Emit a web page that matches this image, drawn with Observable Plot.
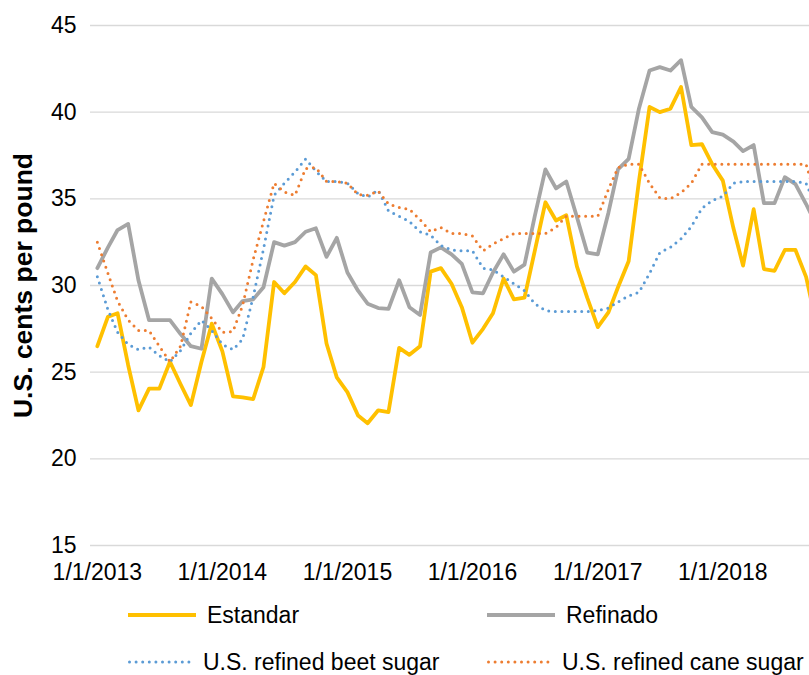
<!DOCTYPE html>
<html>
<head>
<meta charset="utf-8">
<script src="https://cdn.jsdelivr.net/npm/d3@7"></script>
<script src="https://cdn.jsdelivr.net/npm/@observablehq/plot@0.6"></script>
<style>
  html, body { margin: 0; padding: 0; background: #fff; overflow: hidden; }
  #wrap { position: relative; width: 809px; height: 675px; font-family: "Liberation Sans", Arial, sans-serif; }
  #legend { position: relative; width: 809px; height: 85px; font-size: 23px; color: #000; }
  .item { position: absolute; display: flex; align-items: center; height: 30px; }
  .item svg { display: block; margin-right: 9px; }
</style>
</head>
<body>
<div id="wrap">
  <div id="chart"></div>
  <div id="legend"></div>
</div>
<script>
// ---- data (monthly, starting January 2013) ----
const startMonth = "2013-01-01";
const estandar = [26.5, 28.2, 28.4, 25.4, 22.8, 24.05, 24.05, 25.6, 24.3, 23.1, 25.6, 27.8,
  26.2, 23.6, 23.55, 23.45, 25.3, 30.2, 29.55, 30.2, 31.1, 30.6, 26.65, 24.7,
  23.85, 22.5, 22.05, 22.8, 22.7, 26.4, 26.0, 26.5, 30.8, 31.0, 30.1, 28.75,
  26.7, 27.5, 28.4, 30.4, 29.2, 29.3, 32.0, 34.8, 33.75, 34.05, 31.1, 29.3,
  27.6, 28.45, 29.9, 31.4, 36.0, 40.3, 40.0, 40.2, 41.45, 38.1, 38.15, 37.0,
  36.05, 33.3, 31.15, 34.4, 30.95, 30.85, 32.05, 32.05, 30.5, 27.8];
const refinado = [31.0, 32.2, 33.2, 33.55, 30.3, 28.0, 28.0, 28.0, 27.2, 26.5, 26.35, 30.4,
  29.5, 28.45, 29.1, 29.2, 29.9, 32.5, 32.3, 32.5, 33.1, 33.3, 31.65, 32.75,
  30.75, 29.7, 28.95, 28.7, 28.65, 30.3, 28.75, 28.3, 31.9, 32.2, 31.8, 31.25,
  29.6, 29.55, 30.75, 31.8, 30.8, 31.2, 34.0, 36.7, 35.6, 36.0, 33.95, 31.9,
  31.8, 34.2, 36.7, 37.3, 40.2, 42.4, 42.6, 42.4, 43.0, 40.3, 39.7, 38.85,
  38.7, 38.3, 37.75, 38.1, 34.75, 34.75, 36.25, 35.85, 34.7, 33.5];
const beetSugar = [30.5, 28.6, 27.3, 26.6, 26.3, 26.45, 25.95, 25.6, 26.25, 27.25, 28.0, 27.4,
  26.6, 26.3, 26.9, 29.35, 32.1, 35.2, 35.9, 36.55, 37.3, 36.6, 36.0, 36.0,
  35.9, 35.3, 35.1, 35.5, 34.3, 34.0, 33.7, 33.1, 32.9, 32.3, 32.05, 32.0,
  32.0, 31.0, 30.9, 30.5, 30.1, 29.7, 28.95, 28.55, 28.5, 28.5, 28.5, 28.5,
  28.55, 28.7, 29.05, 29.4, 29.6, 30.7, 31.9, 32.2, 32.7, 33.4, 34.45, 34.9,
  35.15, 35.9, 36.0, 36.0, 36.0, 36.0, 36.0, 36.0, 35.9, 34.5];
const caneSugar = [32.5, 30.7, 29.1, 28.0, 27.4, 27.4, 26.5, 25.6, 26.5, 29.05, 28.8, 28.1,
  27.3, 27.35, 28.85, 31.5, 33.7, 35.9, 35.4, 35.2, 36.75, 36.8, 36.0, 36.0,
  35.9, 35.25, 35.2, 35.45, 34.7, 34.5, 34.4, 33.8, 33.1, 33.35, 33.0, 33.0,
  32.85, 32.0, 32.4, 32.7, 33.0, 33.0, 33.0, 33.0, 33.35, 34.0, 34.0, 34.0,
  34.0, 35.55, 36.8, 37.0, 37.0, 35.9, 35.05, 35.0, 35.35, 35.9, 37.0, 37.0,
  37.0, 37.0, 37.0, 37.0, 37.0, 37.0, 37.0, 37.0, 37.0, 35.0];
const seriesNames = ["Estandar", "Refinado", "U.S. refined beet sugar", "U.S. refined cane sugar"];
const xTickLabels = ["1/1/2013", "1/1/2014", "1/1/2015", "1/1/2016", "1/1/2017", "1/1/2018"];
const yTicks = [15, 20, 25, 30, 35, 40, 45];
const yLabel = "U.S. cents per pound";

// ---- build ----
const start = new Date(startMonth + "T00:00:00Z");
const dates = estandar.map((_, i) => d3.utcMonth.offset(start, i));
const toRows = (vals) => vals.map((v, i) => ({date: dates[i], value: v}));
const parseLabel = s => { const [m, d, y] = s.split("/").map(Number); return new Date(Date.UTC(y, m - 1, d)); };
const xTicks = xTickLabels.map(parseLabel);
const fmt = d => `${d.getUTCMonth() + 1}/${d.getUTCDate()}/${d.getUTCFullYear()}`;
const yMid = (yTicks[0] + yTicks[yTicks.length - 1]) / 2;

const styles = [
  {stroke: "#FFC000", strokeWidth: 3.8},
  {stroke: "#A5A5A5", strokeWidth: 3.8},
  {stroke: "#5B9BD5", strokeWidth: 3, strokeDasharray: "0 6.6", strokeLinecap: "round"},
  {stroke: "#ED7D31", strokeWidth: 3, strokeDasharray: "0 6.6", strokeLinecap: "round"}
];
const allSeries = [estandar, refinado, beetSugar, caneSugar];

const chart = Plot.plot({
  width: 809,
  height: 590,
  marginLeft: 90,
  marginRight: 0,
  marginTop: 25,
  marginBottom: 45,
  style: {fontFamily: "'Liberation Sans', Arial, sans-serif", fontSize: "23px", color: "#000", background: "#fff", overflow: "hidden"},
  x: {type: "utc", domain: [new Date(Date.UTC(2012, 11, 12)), new Date(Date.UTC(2018, 8, 11))],
      ticks: xTicks, tickFormat: fmt, tickSize: 0, tickPadding: 18, label: null},
  y: {domain: [15, 45], ticks: yTicks, tickSize: 0, tickPadding: 14, label: null},
  marks: [
    Plot.ruleY(yTicks, {stroke: "#D9D9D9", strokeWidth: 1.3}),
    ...allSeries.map((s, k) => Plot.line(toRows(s), {x: "date", y: "value", ...styles[k], strokeLinejoin: "round", clip: true})),
    Plot.text([yLabel], {frameAnchor: "left", y: () => yMid, text: d => d, dx: -67, rotate: -90,
      textAnchor: "middle", lineAnchor: "middle", fontSize: 26.5, fontWeight: "bold", fill: "#000"})
  ]
});
document.getElementById("chart").appendChild(chart);

// ---- legend ----
const legend = document.getElementById("legend");
const pos = [[128, 25], [487, 25], [128, 72], [487, 72]];
seriesNames.forEach((name, k) => {
  const st = styles[k];
  const item = document.createElement("div");
  item.className = "item";
  item.style.left = pos[k][0] + "px";
  item.style.top = (pos[k][1] - 15) + "px";
  const w = k < 2 ? 68 : 64;
  const dash = st.strokeDasharray ? `stroke-dasharray="${st.strokeDasharray}" stroke-linecap="round"` : "";
  item.innerHTML = `<svg width="${w + 2}" height="10"><line x1="${k < 2 ? 0 : 1.5}" x2="${w}" y1="5" y2="5" stroke="${st.stroke}" stroke-width="${st.strokeWidth}" ${dash}/></svg><span>${name}</span>`;
  legend.appendChild(item);
});
</script>
</body>
</html>
